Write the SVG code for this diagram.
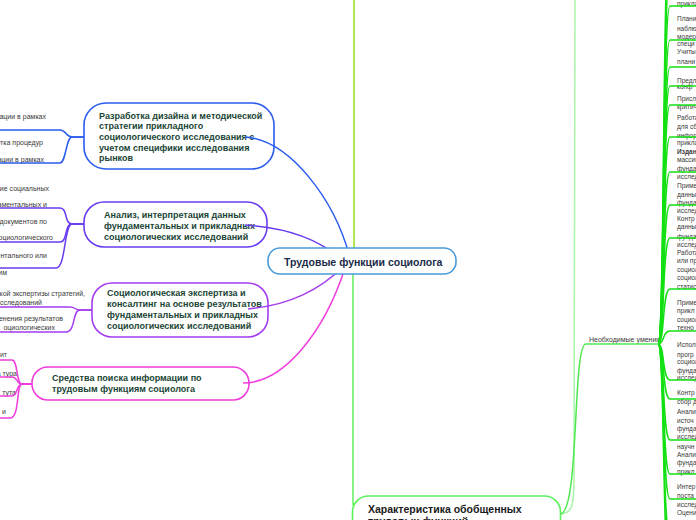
<svg xmlns="http://www.w3.org/2000/svg" width="696" height="520" viewBox="0 0 696 520">
<style>
.nt{font-family:"Liberation Sans",Arial,sans-serif;font-weight:bold;font-size:9px;fill:#1a4535}
.ct{font-family:"Liberation Sans",Arial,sans-serif;font-weight:bold;font-size:10.5px;fill:#1b2b48}
.sm{font-family:"Liberation Sans",Arial,sans-serif;font-size:7px;fill:#3a3a3a}
.rt{font-family:"Liberation Sans",Arial,sans-serif;font-size:6.5px;fill:#3a3a3a}
.c{fill:none;stroke-width:1.5}
.box{fill:#fff;stroke-width:1.6}
.fan path{fill:none;stroke:#14e014;stroke-width:1.5}
</style>
<rect width="696" height="520" fill="#fff"/>

<g id="node-blue">
<rect class="box" x="84" y="103" width="190" height="66" rx="22" stroke="#2a5cf0"/>
<text class="nt" x="99" y="118.5">Разработка дизайна и методической</text>
<text class="nt" x="99" y="129">стратегии прикладного</text>
<text class="nt" x="99" y="140">социологического исследования с</text>
<text class="nt" x="99" y="150.5">учетом специфики исследования</text>
<text class="nt" x="99" y="161">рынков</text>
</g>
<g id="node-analysis">
<rect class="box" x="84" y="202" width="183" height="45" rx="20" stroke="#6a3cf0"/>
<text class="nt" x="104" y="218">Анализ, интерпретация данных</text>
<text class="nt" x="104" y="229">фундаментальных и прикладных</text>
<text class="nt" x="104" y="239.5">социологических исследований</text>
</g>
<g id="node-expert">
<rect class="box" x="92" y="283" width="176" height="54" rx="20" stroke="#a43ef0"/>
<text class="nt" x="107" y="296">Социологическая экспертиза и</text>
<text class="nt" x="107" y="307">консалтинг на основе результатов</text>
<text class="nt" x="107" y="318">фундаментальных и прикладных</text>
<text class="nt" x="107" y="329">социологических исследований</text>
</g>
<g id="node-search">
<rect class="box" x="32" y="367" width="217" height="33" rx="16" stroke="#f03cdc"/>
<text class="nt" x="52" y="381">Средства поиска информации по</text>
<text class="nt" x="52" y="392">трудовым функциям социолога</text>
</g>
<g id="node-char">
<rect class="box" x="352.5" y="496" width="208" height="50" rx="16" stroke="#5cf05c"/>
<text class="ct" style="fill:#1a1a1a" x="368" y="513">Характеристика обобщенных</text>
<text class="ct" style="fill:#1a1a1a" x="368" y="525">трудовых функций</text>
</g>

<g id="left-topics">
<text class="sm" text-anchor="end" x="46" y="118.5">уации в рамках</text>
<text class="sm" text-anchor="end" x="43" y="145">ботка процедур</text>
<text class="sm" text-anchor="end" x="44" y="161.5">ации в рамках</text>
<text class="sm" text-anchor="end" x="49" y="190.5">ние социальных</text>
<text class="sm" text-anchor="end" x="47" y="206.5">даментальных и</text>
<text class="sm" text-anchor="end" x="47" y="223.5">с документов по</text>
<text class="sm" text-anchor="end" x="53" y="239.5">социологического</text>
<text class="sm" text-anchor="end" x="47" y="257.5">ентального или</text>
<text class="sm" text-anchor="end" x="7" y="274.5">им</text>
<text class="sm" text-anchor="end" x="85" y="295.5">еской экспертизы стратегий,</text>
<text class="sm" text-anchor="end" x="42" y="304.5">исследований</text>
<text class="sm" text-anchor="end" x="63" y="320.5">именения результатов</text>
<text class="sm" text-anchor="end" x="55" y="329.5">оциологических</text>
<text class="sm" text-anchor="end" x="7" y="356.5">ит</text>
<text class="sm" text-anchor="end" x="17" y="376">а тура</text>
<text class="sm" text-anchor="end" x="16" y="394.5">тута</text>
<text class="sm" text-anchor="end" x="6" y="413.5">и</text>
</g>

<g id="skills">
<text class="sm" x="589" y="341.5">Необходимые умения</text>
</g>

<g id="right-topics">
<text class="rt" x="677" y="5.8">прикла</text>
<text class="rt" x="677" y="20.8">Плани</text>
<text class="rt" x="677" y="30.8">наблю</text>
<text class="rt" x="677" y="38.5">модер</text>
<text class="rt" x="677" y="45.8">специ</text>
<text class="rt" x="677" y="54.2">Учиты</text>
<text class="rt" x="677" y="64.2">плани</text>
<text class="rt" x="677" y="82.5">Предл</text>
<text class="rt" x="677" y="88.5">конф</text>
<text class="rt" x="677" y="100.8">Присл</text>
<text class="rt" x="677" y="109.2">критич</text>
<text class="rt" x="677" y="119.8">Работа</text>
<text class="rt" x="677" y="128.5">для сб</text>
<text class="rt" x="677" y="137.5">инфор</text>
<text class="rt" x="677" y="145.2">прикла</text>
<text class="rt" x="677" y="154.2" font-weight="bold">Издан</text>
<text class="rt" x="677" y="161.8">массив</text>
<text class="rt" x="677" y="170.8">фунда</text>
<text class="rt" x="677" y="179.2">исслед</text>
<text class="rt" x="677" y="187.5">Приме</text>
<text class="rt" x="677" y="196.5">данны</text>
<text class="rt" x="677" y="205.2">фунда</text>
<text class="rt" x="677" y="212.5">исслед</text>
<text class="rt" x="677" y="220.8">Контр</text>
<text class="rt" x="677" y="229.2">данны</text>
<text class="rt" x="677" y="238.5">фунда</text>
<text class="rt" x="677" y="246.5">исслед</text>
<text class="rt" x="677" y="255.2">Работа</text>
<text class="rt" x="677" y="263.2">или пр</text>
<text class="rt" x="677" y="271.8">социол</text>
<text class="rt" x="677" y="279.8">социол</text>
<text class="rt" x="677" y="289.2">статис</text>
<text class="rt" x="677" y="305.2">Приме</text>
<text class="rt" x="677" y="313.2">прикл</text>
<text class="rt" x="677" y="321.5">социол</text>
<text class="rt" x="677" y="329.8">техно</text>
<text class="rt" x="677" y="346.5">Испол</text>
<text class="rt" x="677" y="356.5">прогр</text>
<text class="rt" x="677" y="364.2">социол</text>
<text class="rt" x="677" y="372.5">фунда</text>
<text class="rt" x="677" y="379.8">исслед</text>
<text class="rt" x="677" y="395.2">Контр</text>
<text class="rt" x="677" y="404.2">сбор д</text>
<text class="rt" x="677" y="414.2">Анали</text>
<text class="rt" x="677" y="422.5">источ</text>
<text class="rt" x="677" y="430.8">фунда</text>
<text class="rt" x="677" y="439.2">исслед</text>
<text class="rt" x="677" y="448.5">научн</text>
<text class="rt" x="677" y="456.5">Анали</text>
<text class="rt" x="677" y="465.2">фунда</text>
<text class="rt" x="677" y="473.5">прикл</text>
<text class="rt" x="677" y="489.2">Интер</text>
<text class="rt" x="677" y="497.5">поста</text>
<text class="rt" x="677" y="506.5">исслед</text>
<text class="rt" x="677" y="515.2">Оцени</text>
</g>

<g id="connectors">
<path class="c" stroke="#2a5cf0" d="M84,137 H72 C66,137 66,130 60,130 H-2"/>
<path class="c" stroke="#2a5cf0" d="M84,137 H72 C66,137 66,163 60,163 H-2"/>
<path class="c" stroke="#6a3cf0" d="M84,224 H72 C64,224 68,208 60,208 H-2"/>
<path class="c" stroke="#6a3cf0" d="M84,224 H72 C64,224 68,242 60,242 H-2"/>
<path class="c" stroke="#6a3cf0" d="M84,224 H72 C64,224 66,268 56,268 H-2"/>
<path class="c" stroke="#a43ef0" d="M92,310 H80 C74,310 76,307 70,307 H-2"/>
<path class="c" stroke="#a43ef0" d="M92,310 H80 C72,310 76,332 66,332 H-2"/>
<path class="c" stroke="#f03cdc" d="M32,384 H22 C16,384 18,360 12,360 H-2"/>
<path class="c" stroke="#f03cdc" d="M32,384 H22 C16,384 18,377 12,377 H-2"/>
<path class="c" stroke="#f03cdc" d="M32,384 H22 C16,384 18,396 12,396 H-2"/>
<path class="c" stroke="#f03cdc" d="M32,384 H22 C16,384 20,418 10,418 H-2"/>

<path class="c" stroke="#2a5cf0" d="M245,137 C290,140 335,200 350,258"/>
<path class="c" stroke="#6a3cf0" d="M245,225 C290,228 320,240 345,262"/>
<path class="c" stroke="#a43ef0" d="M248,309 C290,305 320,290 345,265"/>
<path class="c" stroke="#f03cdc" d="M243,383 C285,383 325,330 345,268"/>

<path class="c" stroke="#96e01a" stroke-width="2.2" d="M354,-5 L354,255"/>
<path class="c" stroke="#5cf05c" d="M353,265 L353,505"/>

<path class="c" stroke="#a8f5a8" stroke-width="1.2" d="M560,514 C572,514 574,505 574,480 L575,-10"/>
<path class="c" stroke="#4fe84f" d="M560,514 C580,514 572,344 586,344 H658"/>

<g class="fan">
<path d="M658,344 C665,344 662,-60 670,-60 H700"/>
<path d="M658,344 C665,344 662,-25 670,-25 H700"/>
<path d="M658,344 C665,344 662,6 670,6 H700"/>
<path d="M658,344 C665,344 662,40 670,40 H700"/>
<path d="M658,344 C665,344 662,67 670,67 H700"/>
<path d="M658,344 C665,344 662,86 670,86 H700"/>
<path d="M658,344 C665,344 662,105 670,105 H700"/>
<path d="M658,344 C665,344 662,137 670,137 H700"/>
<path d="M658,344 C665,344 662,172 670,172 H700"/>
<path d="M658,344 C665,344 662,205 670,205 H700"/>
<path d="M658,344 C665,344 662,238 670,238 H700"/>
<path d="M658,344 C665,344 662,289 670,289 H700"/>
<path d="M658,344 C665,344 662,331 670,331 H700"/>
<path d="M658,344 C665,344 662,380 670,380 H700"/>
<path d="M658,344 C665,344 662,399 670,399 H700"/>
<path d="M658,344 C665,344 662,440 670,440 H700"/>
<path d="M658,344 C665,344 662,474 670,474 H700"/>
<path d="M658,344 C665,344 662,499 670,499 H700"/>
<path d="M658,344 C665,344 662,535 670,535 H700"/>
<path d="M658,344 C665,344 662,570 670,570 H700"/>
</g>
</g>

<g id="node-center">
<rect class="box" x="268" y="248" width="188" height="26" rx="12" stroke="#4a9ad8"/>
<text class="ct" x="284" y="266">Трудовые функции социолога</text>
</g>
</svg>
